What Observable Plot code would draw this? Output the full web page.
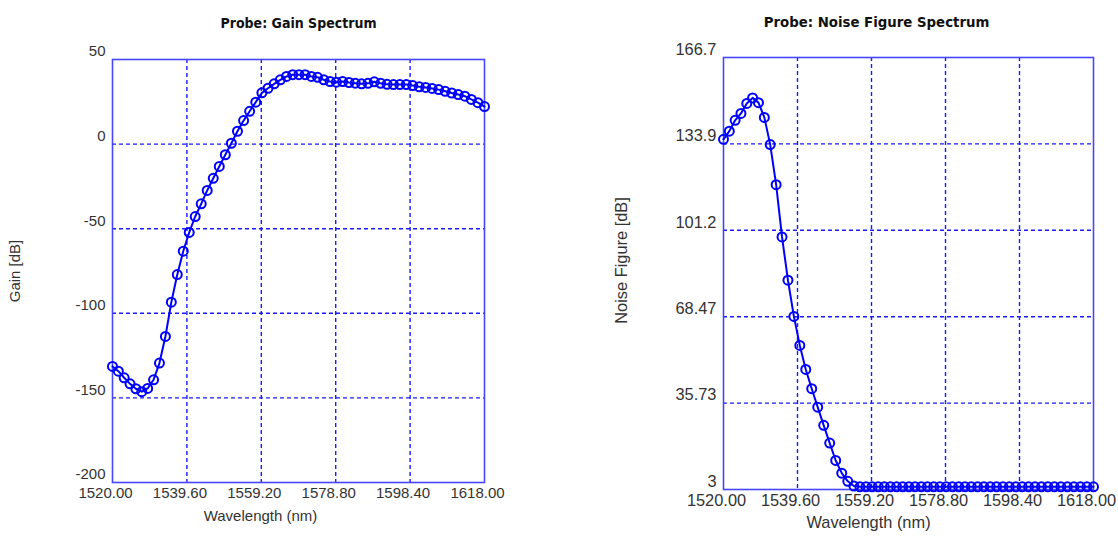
<!DOCTYPE html>
<html>
<head>
<meta charset="utf-8">
<script src="https://cdn.jsdelivr.net/npm/d3@7"></script>
<script src="https://cdn.jsdelivr.net/npm/@observablehq/plot@0.6"></script>
<style>
  html, body { margin: 0; padding: 0; background: white; }
  #wrap { position: relative; width: 1118px; height: 539px; overflow: hidden; }
  #left, #right { position: absolute; top: 0; }
  #left { left: 0; }
  #right { left: 559px; }
</style>
</head>
<body>
<div id="wrap"><div id="left"></div><div id="right"></div></div>
<script>
// Wavelength samples (nm)
const wavelengths = [
  1520.00, 1521.54, 1523.08, 1524.62, 1526.16, 1527.71, 1529.26, 1530.82, 1532.37, 1533.94,
  1535.50, 1537.07, 1538.64, 1540.21, 1541.79, 1543.37, 1544.95, 1546.54, 1548.13, 1549.72,
  1551.32, 1552.92, 1554.54, 1556.13, 1557.74, 1559.35, 1560.97, 1562.59, 1564.21, 1565.84,
  1567.47, 1569.11, 1570.74, 1572.38, 1574.02, 1575.67, 1577.32, 1578.98, 1580.63, 1582.30,
  1583.96, 1585.63, 1587.30, 1588.97, 1590.65, 1592.33, 1594.01, 1595.70, 1597.40, 1599.10,
  1600.80, 1602.50, 1604.21, 1605.92, 1607.64, 1609.36, 1611.08, 1612.82, 1614.54, 1616.27,
  1618.00
];
// Gain [dB]
const gain = [
  -131.4, -134.2, -138.1, -141.7, -144.6, -146.3, -144.4, -139.3, -129.4, -113.7,
  -93.4, -77.1, -63.3, -52.2, -42.8, -35.3, -27.4, -20.2, -13.2, -6.3,
  0.5, 7.6, 13.9, 19.4, 24.8, 30.3, 33.0, 35.6, 38.0, 40.0,
  41.0, 41.0, 41.0, 40.0, 39.5, 38.0, 37.0, 36.6, 37.0, 36.4,
  36.0, 35.6, 35.9, 36.8, 35.9, 35.3, 35.2, 35.2, 35.2, 34.6,
  33.9, 33.5, 32.9, 32.2, 31.2, 30.2, 29.3, 28.3, 26.4, 24.5,
  22.2
];
// Noise Figure [dB]
const noiseFigure = [
  135.7, 138.8, 142.9, 145.5, 149.3, 151.4, 149.6, 144.0, 133.7, 118.5,
  98.7, 82.3, 68.6, 57.6, 48.5, 41.2, 34.2, 27.3, 20.6, 14.0,
  9.2, 6.1, 4.3, 4.0, 4.0, 4.0, 4.0, 4.0, 4.0, 4.0,
  4.0, 4.0, 4.0, 4.0, 4.0, 4.0, 4.0, 4.0, 4.0, 4.0,
  4.0, 4.0, 4.0, 4.0, 4.0, 4.0, 4.0, 4.0, 4.0, 4.0,
  4.0, 4.0, 4.0, 4.0, 4.0, 4.0, 4.0, 4.0, 4.0, 4.0,
  4.0
];
const xTicks = [1520, 1539.6, 1559.2, 1578.8, 1598.4, 1618];
const gainTicks = [-200, -150, -100, -50, 0, 50];
const nfTicks = [3, 35.74, 68.48, 101.22, 133.96, 166.7];
const nfTickLabels = ["3", "35.73", "68.47", "101.2", "133.9", "166.7"];

const gainData = wavelengths.map((w, i) => ({w, v: gain[i]}));
const nfData = wavelengths.map((w, i) => ({w, v: noiseFigure[i]}));

const BLUE = "#0000ff";
const GRID = "#1a1aff";
const FRAME = "#4646ff";
const TXT = "#333333";
const FONT = "'Liberation Sans', Arial, sans-serif";
const TITLE_FONT = "'DejaVu Sans Condensed', 'Liberation Sans', Arial, sans-serif";

function panel({data, yDomain, yTicks, yFormat, margins, fontSize, title, titleSize, titleDx, yLabel, yLabelDx, yLabelDy, xLabelDx}) {
  return Plot.plot({
    width: 559, height: 539,
    ...margins,
    style: {fontFamily: FONT, fontSize: fontSize + "px", color: TXT, background: "white", overflow: "visible"},
    x: {domain: [1520, 1618]},
    y: {domain: yDomain},
    marks: [
      Plot.ruleX(xTicks.slice(1, -1), {stroke: GRID, strokeWidth: 1.4, strokeDasharray: "4,3"}),
      Plot.ruleY(yTicks.slice(1, -1), {stroke: GRID, strokeWidth: 1.4, strokeDasharray: "4,3"}),
      Plot.frame({stroke: FRAME, strokeWidth: 1.6}),
      Plot.axisX({ticks: xTicks, tickFormat: d => d.toFixed(2), tickSize: 0, tickPadding: 5, dx: -7, label: null, fill: TXT}),
      Plot.axisY({ticks: yTicks, tickFormat: yFormat, tickSize: 0, tickPadding: 7, dy: -8, label: null, fill: TXT}),
      Plot.line(data, {x: "w", y: "v", stroke: BLUE, strokeWidth: 2}),
      Plot.dot(data, {x: "w", y: "v", r: 4.5, stroke: BLUE, strokeWidth: 2, fill: "none"}),
      Plot.text([title], {text: d => d, frameAnchor: "top", textAnchor: "middle", dx: titleDx, dy: -41, fontWeight: "bold", fontFamily: TITLE_FONT, fontSize: titleSize, fill: "#111"}),
      Plot.text(["Wavelength (nm)"], {text: d => d, frameAnchor: "bottom", textAnchor: "middle", dx: xLabelDx, dy: 38, fill: TXT}),
      Plot.text([yLabel], {text: d => d, frameAnchor: "left", textAnchor: "middle", dx: yLabelDx, dy: yLabelDy, rotate: -90, fill: TXT})
    ]
  });
}

document.getElementById("left").appendChild(panel({
  data: gainData, yDomain: [-200, 50], yTicks: gainTicks, yFormat: d => String(d),
  margins: {marginLeft: 112, marginRight: 75, marginTop: 59, marginBottom: 57},
  fontSize: 15, title: "Probe: Gain Spectrum", titleSize: 14, titleDx: 0,
  yLabel: "Gain [dB]", yLabelDx: -97, yLabelDy: 0, xLabelDx: -38
}));

document.getElementById("right").appendChild(panel({
  data: nfData, yDomain: [3, 166.7], yTicks: nfTicks, yFormat: (d, i) => nfTickLabels[i],
  margins: {marginLeft: 164, marginRight: 25, marginTop: 57, marginBottom: 50},
  fontSize: 16.4, title: "Probe: Noise Figure Spectrum", titleSize: 14.8, titleDx: -32,
  yLabel: "Noise Figure [dB]", yLabelDx: -102, yLabelDy: -13, xLabelDx: -40
}));
</script>
</body>
</html>
